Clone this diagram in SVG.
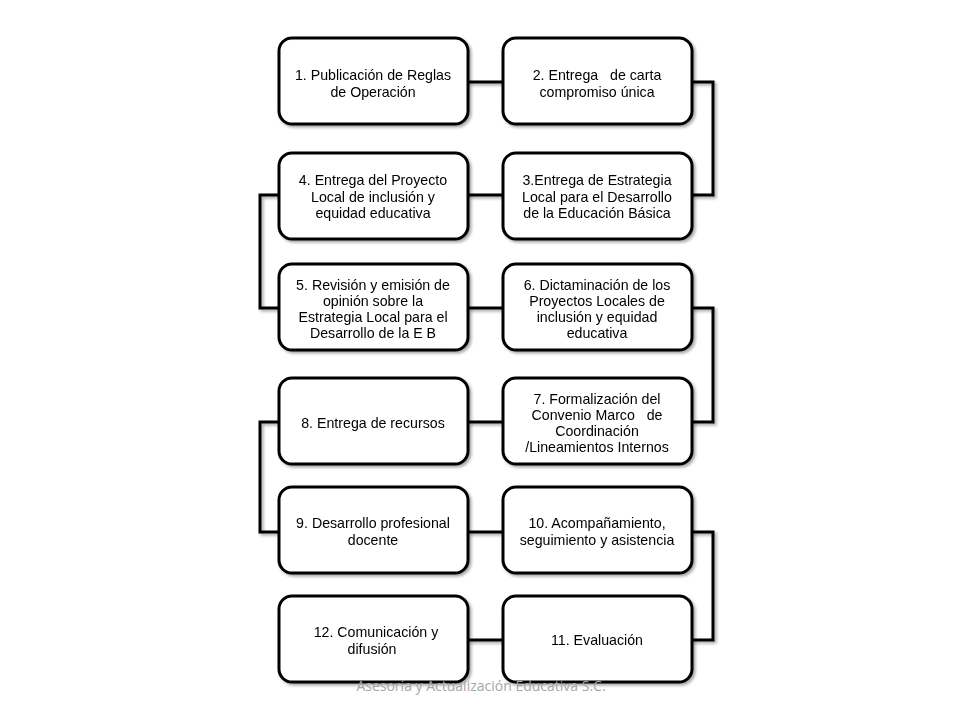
<svg xmlns="http://www.w3.org/2000/svg" width="960" height="720" viewBox="0 0 960 720">
<defs>
<filter id="sh" x="-10%" y="-10%" width="130%" height="130%">
<feGaussianBlur in="SourceAlpha" stdDeviation="1.5"/>
<feOffset dx="2" dy="2" result="b"/>
<feComponentTransfer><feFuncA type="linear" slope="0.35"/></feComponentTransfer>
<feMerge><feMergeNode/><feMergeNode in="SourceGraphic"/></feMerge>
</filter>
</defs>
<style>
.box{fill:#fff;stroke:#000;stroke-width:3}
.t{font-family:"Liberation Sans",Arial,sans-serif;font-size:14.2px;fill:#000;text-anchor:middle;white-space:pre}
.c{fill:none;stroke:#000;stroke-width:3}
.f{font-family:"Open Sans","Liberation Sans",sans-serif;font-size:14px;fill:#a6a6a6;text-anchor:middle}
</style>
<rect width="960" height="720" fill="#fff"/>
<g id="connectors" filter="url(#sh)">
<path class="c" d="M468 82H503"/>
<path class="c" d="M691 82H713V195H691"/>
<path class="c" d="M503 195H468"/>
<path class="c" d="M279 195H260V308H279"/>
<path class="c" d="M468 308H503"/>
<path class="c" d="M691 308H713V422H691"/>
<path class="c" d="M503 422H468"/>
<path class="c" d="M279 422H260V532H279"/>
<path class="c" d="M468 532H503"/>
<path class="c" d="M691 532H713V640H691"/>
<path class="c" d="M503 640H468"/>
</g>
<g id="n1" filter="url(#sh)"><rect class="box" x="279" y="38" width="189" height="86" rx="13"/>
<text class="t" x="373" y="80">1. Publicación de Reglas</text><text class="t" x="373" y="97">de Operación</text></g>
<g id="n2" filter="url(#sh)"><rect class="box" x="503" y="38" width="189" height="86" rx="13"/>
<text class="t" x="597" y="80">2. Entrega   de carta</text><text class="t" x="597" y="97">compromiso única</text></g>
<g id="n3" filter="url(#sh)"><rect class="box" x="503" y="153" width="189" height="86" rx="13"/>
<text class="t" x="597" y="185">3.Entrega de Estrategia</text><text class="t" x="597" y="202">Local para el Desarrollo</text><text class="t" x="597" y="218">de la Educación Básica</text></g>
<g id="n4" filter="url(#sh)"><rect class="box" x="279" y="153" width="189" height="86" rx="13"/>
<text class="t" x="373" y="185">4. Entrega del Proyecto</text><text class="t" x="373" y="202">Local de inclusión y</text><text class="t" x="373" y="218">equidad educativa</text></g>
<g id="n5" filter="url(#sh)"><rect class="box" x="279" y="264" width="189" height="86" rx="13"/>
<text class="t" x="373" y="290">5. Revisión y emisión de</text><text class="t" x="373" y="306">opinión sobre la</text><text class="t" x="373" y="322">Estrategia Local para el</text><text class="t" x="373" y="338">Desarrollo de la E B</text></g>
<g id="n6" filter="url(#sh)"><rect class="box" x="503" y="264" width="189" height="86" rx="13"/>
<text class="t" x="597" y="290">6. Dictaminación de los</text><text class="t" x="597" y="306">Proyectos Locales de</text><text class="t" x="597" y="322">inclusión y equidad</text><text class="t" x="597" y="338">educativa</text></g>
<g id="n7" filter="url(#sh)"><rect class="box" x="503" y="378" width="189" height="86" rx="13"/>
<text class="t" x="597" y="404">7. Formalización del</text><text class="t" x="597" y="420">Convenio Marco   de</text><text class="t" x="597" y="436">Coordinación</text><text class="t" x="597" y="452">/Lineamientos Internos</text></g>
<g id="n8" filter="url(#sh)"><rect class="box" x="279" y="378" width="189" height="86" rx="13"/>
<text class="t" x="373" y="428">8. Entrega de recursos</text></g>
<g id="n9" filter="url(#sh)"><rect class="box" x="279" y="487" width="189" height="86" rx="13"/>
<text class="t" x="373" y="528">9. Desarrollo profesional</text><text class="t" x="373" y="545">docente</text></g>
<g id="n10" filter="url(#sh)"><rect class="box" x="503" y="487" width="189" height="86" rx="13"/>
<text class="t" x="597" y="528">10. Acompañamiento,</text><text class="t" x="597" y="545">seguimiento y asistencia</text></g>
<g id="n11" filter="url(#sh)"><rect class="box" x="503" y="596" width="189" height="86" rx="13"/>
<text class="t" x="597" y="645">11. Evaluación</text></g>
<g id="n12" filter="url(#sh)"><rect class="box" x="279" y="596" width="189" height="86" rx="13"/>
<text class="t" x="376" y="637">12. Comunicación y</text><text class="t" x="372" y="654">difusión</text></g>
<text class="f" x="481" y="691">Asesoría y Actualización Educativa S.C.</text>
</svg>
